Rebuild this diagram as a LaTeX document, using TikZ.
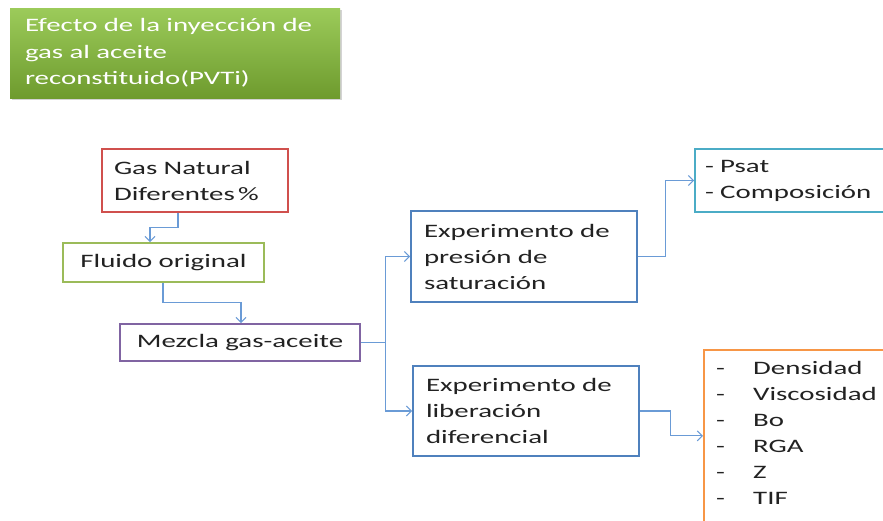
\documentclass[tikz,border=0pt]{standalone}
\usepackage{fontspec}
\setmainfont{Carlito}[FakeStretch=1.52, WordSpace=0.8]
\usetikzlibrary{arrows.meta,shadows}
\definecolor{cred}{HTML}{D0504D}
\definecolor{cgreen}{HTML}{9BBB59}
\definecolor{cpurple}{HTML}{8064A2}
\definecolor{cblue}{HTML}{4F81BD}
\definecolor{ccyan}{HTML}{4BACC6}
\definecolor{corange}{HTML}{F79646}
\definecolor{cline}{HTML}{6A9BD6}
\definecolor{ctext}{HTML}{222222}
\definecolor{tgtop}{HTML}{9CCB5A}
\definecolor{tgbot}{HTML}{6E9B2E}
\begin{document}
\begin{tikzpicture}[x=1pt,y=-1pt,
  box/.style={draw, fill=white, line width=1.8pt, inner ysep=0pt, text=ctext,
    font=\fontsize{19}{26}\selectfont},
  conn/.style={draw=cline, line width=1.1pt, -{Straight Barb[length=5pt,width=10pt]}},
  plain/.style={draw=cline, line width=1.1pt}]
\useasboundingbox (0,0) rectangle (883,520);
\clip (0,0) rectangle (883,520);
% title
\node[draw=none, top color=tgtop, bottom color=tgbot, minimum width=330pt, minimum height=90pt,
  text width=300pt, inner xsep=15pt, align=left, text=white,
  font=\fontsize{19}{26.5}\selectfont, drop shadow={opacity=0.35, shadow xshift=2pt, shadow yshift=-2pt}]
  (title) at (175,53) {Efecto de la inyección de\\gas al aceite\\reconstituido(PVTi)};
% left column
\node[box, draw=cred, minimum width=186pt, minimum height=63pt, text width=162pt, inner xsep=12pt, align=left]
  (gas) at (195,180.5) {Gas Natural\\Diferentes\,\%};
\node[box, draw=cgreen, minimum width=201pt, minimum height=39pt, text width=189pt, inner xsep=6pt, align=center]
  (fluido) at (163.5,262.5) {Fluido original};
\node[box, draw=cpurple, minimum width=240pt, minimum height=37pt, text width=230pt, inner xsep=5pt, align=center]
  (mezcla) at (240,342.5) {Mezcla gas-aceite};
% experiments
\node[box, draw=cblue, minimum width=226pt, minimum height=91pt, text width=200pt, inner xsep=13pt, align=left]
  (pres) at (524,256.5) {Experimento de\\presión de\\saturación};
\node[box, draw=cblue, minimum width=226pt, minimum height=90pt, text width=200pt, inner xsep=13pt, align=left]
  (lib) at (526,411) {Experimento de\\liberación\\diferencial};
% results
\node[box, draw=ccyan, minimum width=250pt, minimum height=63pt, text width=230pt, inner xsep=10pt, align=left]
  (psat) at (820,180.5) {- Psat\\- Composición};
\node[box, draw=corange, minimum width=250pt, minimum height=200pt, anchor=north west]
  (orange) at (703,349) {};
\node[anchor=west, inner sep=0pt, align=left, text=ctext, font=\fontsize{19}{26}\selectfont]
  (otext) at (716,433) {\makebox[37pt][l]{-}Densidad\\\makebox[37pt][l]{-}Viscosidad\\\makebox[37pt][l]{-}Bo\\\makebox[37pt][l]{-}RGA\\\makebox[37pt][l]{-}Z\\\makebox[37pt][l]{-}TIF};
% connectors
\draw[conn] ([xshift=-17pt]gas.south) -- ++(0,15) -| ([xshift=-13.5pt]fluido.north);
\draw[conn] ([xshift=-0.5pt]fluido.south) -- ++(0,20) -| ([xshift=1pt]mezcla.north);
\draw[plain] (mezcla.east) -- ++(25,0) coordinate (split);
\draw[conn] (split) |- (pres.west);
\draw[conn] (split) |- (lib.west);
\draw[conn] (pres.east) -- ++(28,0) |- (psat.west);
\draw[conn] (lib.east) -- ++(31,0) |- ([yshift=14pt]orange.west);
\end{tikzpicture}
\end{document}
